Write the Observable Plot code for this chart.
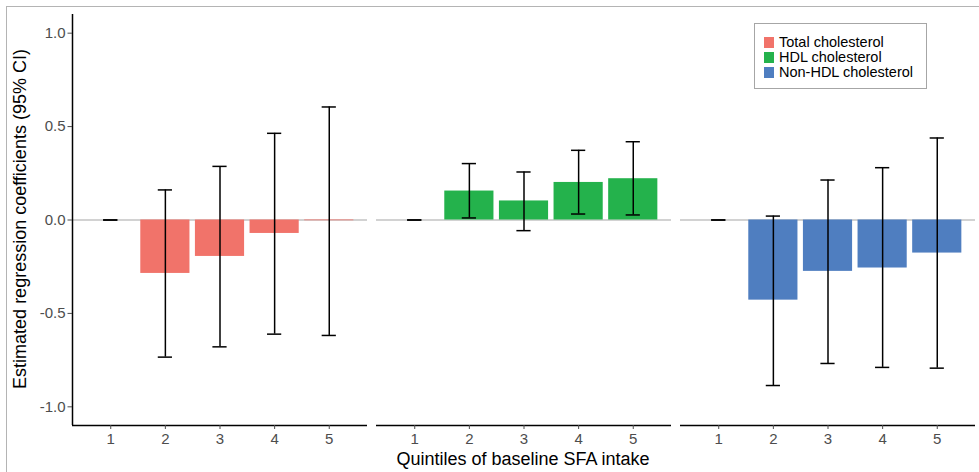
<!DOCTYPE html>
<html>
<head>
<meta charset="utf-8">
<script src="https://cdn.jsdelivr.net/npm/d3@7"></script>
<script src="https://cdn.jsdelivr.net/npm/@observablehq/plot@0.6"></script>
<style>
  html, body { margin: 0; padding: 0; background: #fff; }
  #wrap { position: relative; width: 979px; height: 472px; overflow: hidden; font-family: Arial, "Liberation Sans", sans-serif; }
  #wrap svg { position: absolute; left: 0; top: 0; }
  #border { position: absolute; left: 6px; top: 6px; right: -2px; bottom: -2px; border-top: 1px solid #b4b4b4; border-left: 1px solid #b4b4b4; pointer-events: none; }
  #ytitle { position: absolute; left: 20px; top: 219px; transform: translate(-50%, -50%) rotate(-90deg); white-space: nowrap; font-size: 18px; line-height: 20px; color: #000; }
  #xtitle { position: absolute; left: 523px; top: 459px; transform: translate(-50%, -50%); white-space: nowrap; font-size: 18px; line-height: 20px; color: #000; }
  #legend { position: absolute; left: 754px; top: 23px; width: 171px; height: 64px; border: 1px solid #a6a6a6; background: #fff; box-sizing: content-box; }
  #legend .row { position: absolute; left: 9px; height: 14px; display: flex; align-items: center; white-space: nowrap; }
  #legend .sw { width: 10px; height: 11px; margin-right: 5px; flex: none; }
  #legend .lab { display: inline-block; height: 14px; line-height: 14px; font-size: 14.5px; }
</style>
</head>
<body>
<div id="wrap">
  <div id="chart"></div>
  <div id="border"></div>
  <div id="ytitle">Estimated regression coefficients (95% CI)</div>
  <div id="xtitle">Quintiles of baseline SFA intake</div>
  <div id="legend"></div>
</div>
<script>
// ---- data ----
const quintiles = [1, 2, 3, 4, 5];
const seriesNames = ["Total cholesterol", "HDL cholesterol", "Non-HDL cholesterol"];
const seriesColors = ["#f1736a", "#24b24c", "#4f7ec0"];

const totalEst = [0, -0.286, -0.195, -0.072, -0.004];
const totalLo  = [0, -0.734, -0.679, -0.611, -0.618];
const totalHi  = [0,  0.161,  0.287,  0.464,  0.605];

const hdlEst = [0, 0.155, 0.102, 0.201, 0.221];
const hdlLo  = [0, 0.011, -0.057, 0.032, 0.027];
const hdlHi  = [0, 0.302, 0.257, 0.373, 0.419];

const nonHdlEst = [0, -0.429, -0.275, -0.257, -0.177];
const nonHdlLo  = [0, -0.886, -0.768, -0.789, -0.793];
const nonHdlHi  = [0,  0.021,  0.214,  0.280,  0.439];

const yTicks = [-1.0, -0.5, 0.0, 0.5, 1.0];
const xDomain = [0.3, 5.7];
const yDomain = [-1.1, 1.1];

// ---- table built from the arrays ----
const est = [totalEst, hdlEst, nonHdlEst];
const lo = [totalLo, hdlLo, nonHdlLo];
const hi = [totalHi, hdlHi, nonHdlHi];
const rows = [];
seriesNames.forEach((s, i) => {
  quintiles.forEach((q, j) => {
    rows.push({series: s, q, est: est[i][j], lo: lo[i][j], hi: hi[i][j]});
  });
});

const barHalf = 0.45;
const capHalf = 0.13;

const chart = Plot.plot({
  width: 979,
  height: 472,
  marginLeft: 71,
  marginRight: 2,
  marginTop: 14,
  marginBottom: 47,
  style: {fontFamily: 'Arial, "Liberation Sans", sans-serif', background: "transparent"},
  fx: {domain: seriesNames, paddingInner: 0.0286, paddingOuter: 0, axis: null, label: null},
  x: {type: "linear", domain: xDomain, label: null},
  y: {domain: yDomain, label: null},
  color: {domain: seriesNames, range: seriesColors},
  marks: [
    Plot.ruleY([0], {stroke: "#a6a6a6", strokeWidth: 1.2}),
    Plot.rectY(rows, {fx: "series", x1: d => d.q - barHalf, x2: d => d.q + barHalf, y1: 0, y2: "est", fill: "series"}),
    Plot.ruleX(rows, {fx: "series", x: "q", y1: "lo", y2: "hi", stroke: "#000", strokeWidth: 1.5}),
    Plot.ruleY(rows, {fx: "series", x1: d => d.q - capHalf, x2: d => d.q + capHalf, y: "lo", stroke: "#000", strokeWidth: 1.5}),
    Plot.ruleY(rows, {fx: "series", x1: d => d.q - capHalf, x2: d => d.q + capHalf, y: "hi", stroke: "#000", strokeWidth: 1.5}),
    Plot.ruleY([yDomain[0]], {stroke: "#000", strokeWidth: 1.5}),
    Plot.ruleX([{series: seriesNames[0]}], {fx: "series", x: () => xDomain[0], y1: () => yDomain[0], y2: () => yDomain[1], stroke: "#000", strokeWidth: 1.5}),
    Plot.axisY({ticks: yTicks, tickFormat: d => d.toFixed(1), tickSize: 4.5, tickPadding: 2.5, fontSize: 15, color: "#4d4d4d", label: null}),
    Plot.axisX({ticks: quintiles, tickFormat: d => String(d), tickSize: 4, tickPadding: 4, fontSize: 15, color: "#4d4d4d", label: null})
  ]
});
document.getElementById("chart").appendChild(chart);

// ---- legend ----
const legend = document.getElementById("legend");
seriesNames.forEach((s, i) => {
  const row = document.createElement("div");
  row.className = "row";
  row.style.top = (11 + i * 15) + "px";
  const sw = document.createElement("div");
  sw.className = "sw";
  sw.style.background = seriesColors[i];
  const t = document.createElement("span");
  t.className = "lab";
  t.textContent = s;
  row.appendChild(sw);
  row.appendChild(t);
  legend.appendChild(row);
});
</script>
</body>
</html>
